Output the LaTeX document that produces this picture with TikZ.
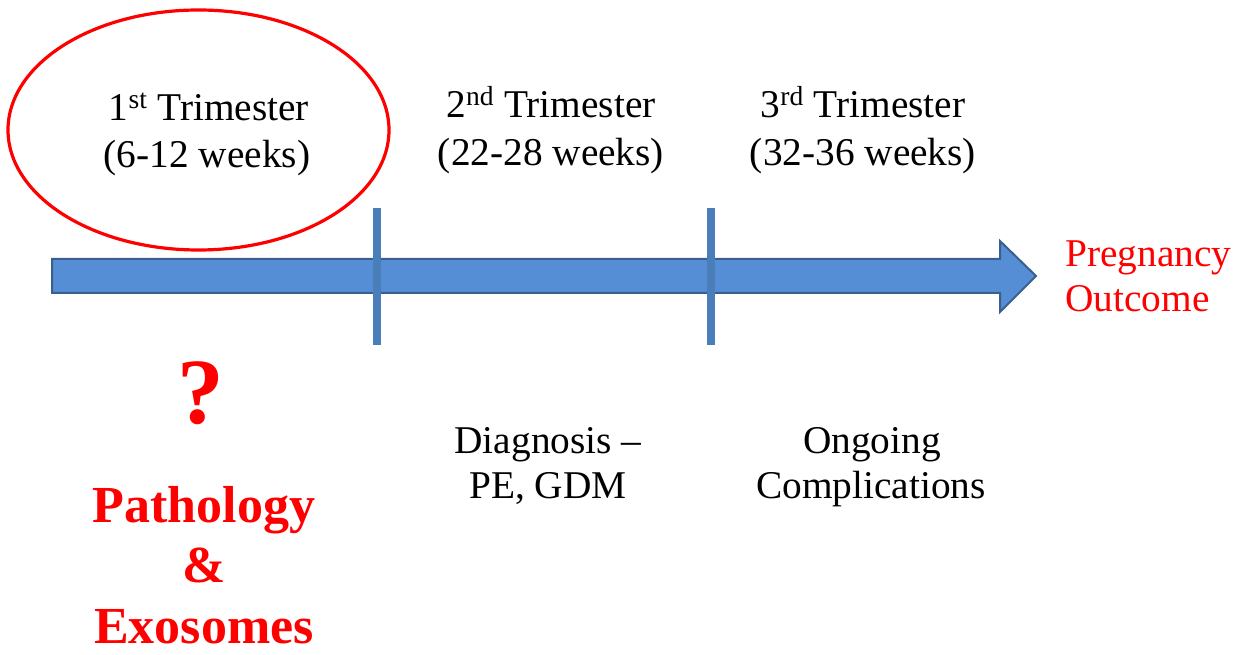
\documentclass[tikz,border=0pt]{standalone}
\usepackage{fontspec}
\setmainfont{Liberation Serif}
\begin{document}
\begin{tikzpicture}[x=0.75pt,y=-0.75pt,
  lbl/.style={inner sep=0pt,anchor=base,font=\fontsize{29.5}{35}\selectfont,text=black},
  redlbl/.style={lbl,text=red},
  boldlbl/.style={inner sep=0pt,anchor=base,font=\fontsize{39}{46}\selectfont\bfseries,text=red},
  divider/.style={draw=divblue,line width=6pt},
  arrowbody/.style={fill=arrowblue,draw=arrowedge,line width=1.5pt,line join=miter}]
\definecolor{arrowblue}{HTML}{558ED5}
\definecolor{arrowedge}{HTML}{3A5F8F}
\definecolor{divblue}{HTML}{4A7EBB}
\useasboundingbox (0,0) rectangle (1241,655);
% ellipse
\draw[red,line width=2.4pt] (198.5,130) ellipse [x radius=190.5, y radius=120];
% timeline arrow
\path[arrowbody] (52,259) -- (1000,259) -- (1000,241) -- (1036,276) -- (1000,312) -- (1000,293) -- (52,293) -- cycle;
% dividers
\coordinate (d1t) at (377,208);
\coordinate (d1b) at (377,345);
\coordinate (d2t) at (711,208);
\coordinate (d2b) at (711,345);
\draw[divider] (d1t) -- (d1b);
\draw[divider] (d2t) -- (d2b);
% trimester labels
\node[lbl] (t1a) at (209,121) {1\textsuperscript{st} Trimester};
\node[lbl] (t1b) at (207,168) {(6-12 weeks)};
\node[lbl] (t2a) at (551,118) {2\textsuperscript{nd} Trimester};
\node[lbl] (t2b) at (551,166) {(22-28 weeks)};
\node[lbl] (t3a) at (863,118) {3\textsuperscript{rd} Trimester};
\node[lbl] (t3b) at (863,166) {(32-36 weeks)};
% outcome
\node[redlbl,anchor=base west] (po1) at (1065,267) {Pregnancy};
\node[redlbl,anchor=base west] (po2) at (1065,312) {Outcome};
% below
\node[lbl] (dg1) at (548,453) {Diagnosis --};
\node[lbl] (dg2) at (548,498) {PE, GDM};
\node[lbl] (oc1) at (872,453) {Ongoing};
\node[lbl] (oc2) at (871,498) {Complications};
% left column
\node[inner sep=0pt,anchor=base,font=\fontsize{70}{80}\selectfont\bfseries,text=red] (q) at (201,424) {?};
\node[boldlbl] (p1) at (204,522) {Pathology};
\node[boldlbl] (p2) at (204,582) {\&};
\node[boldlbl] (p3) at (204,643) {Exosomes};
\end{tikzpicture}
\end{document}
